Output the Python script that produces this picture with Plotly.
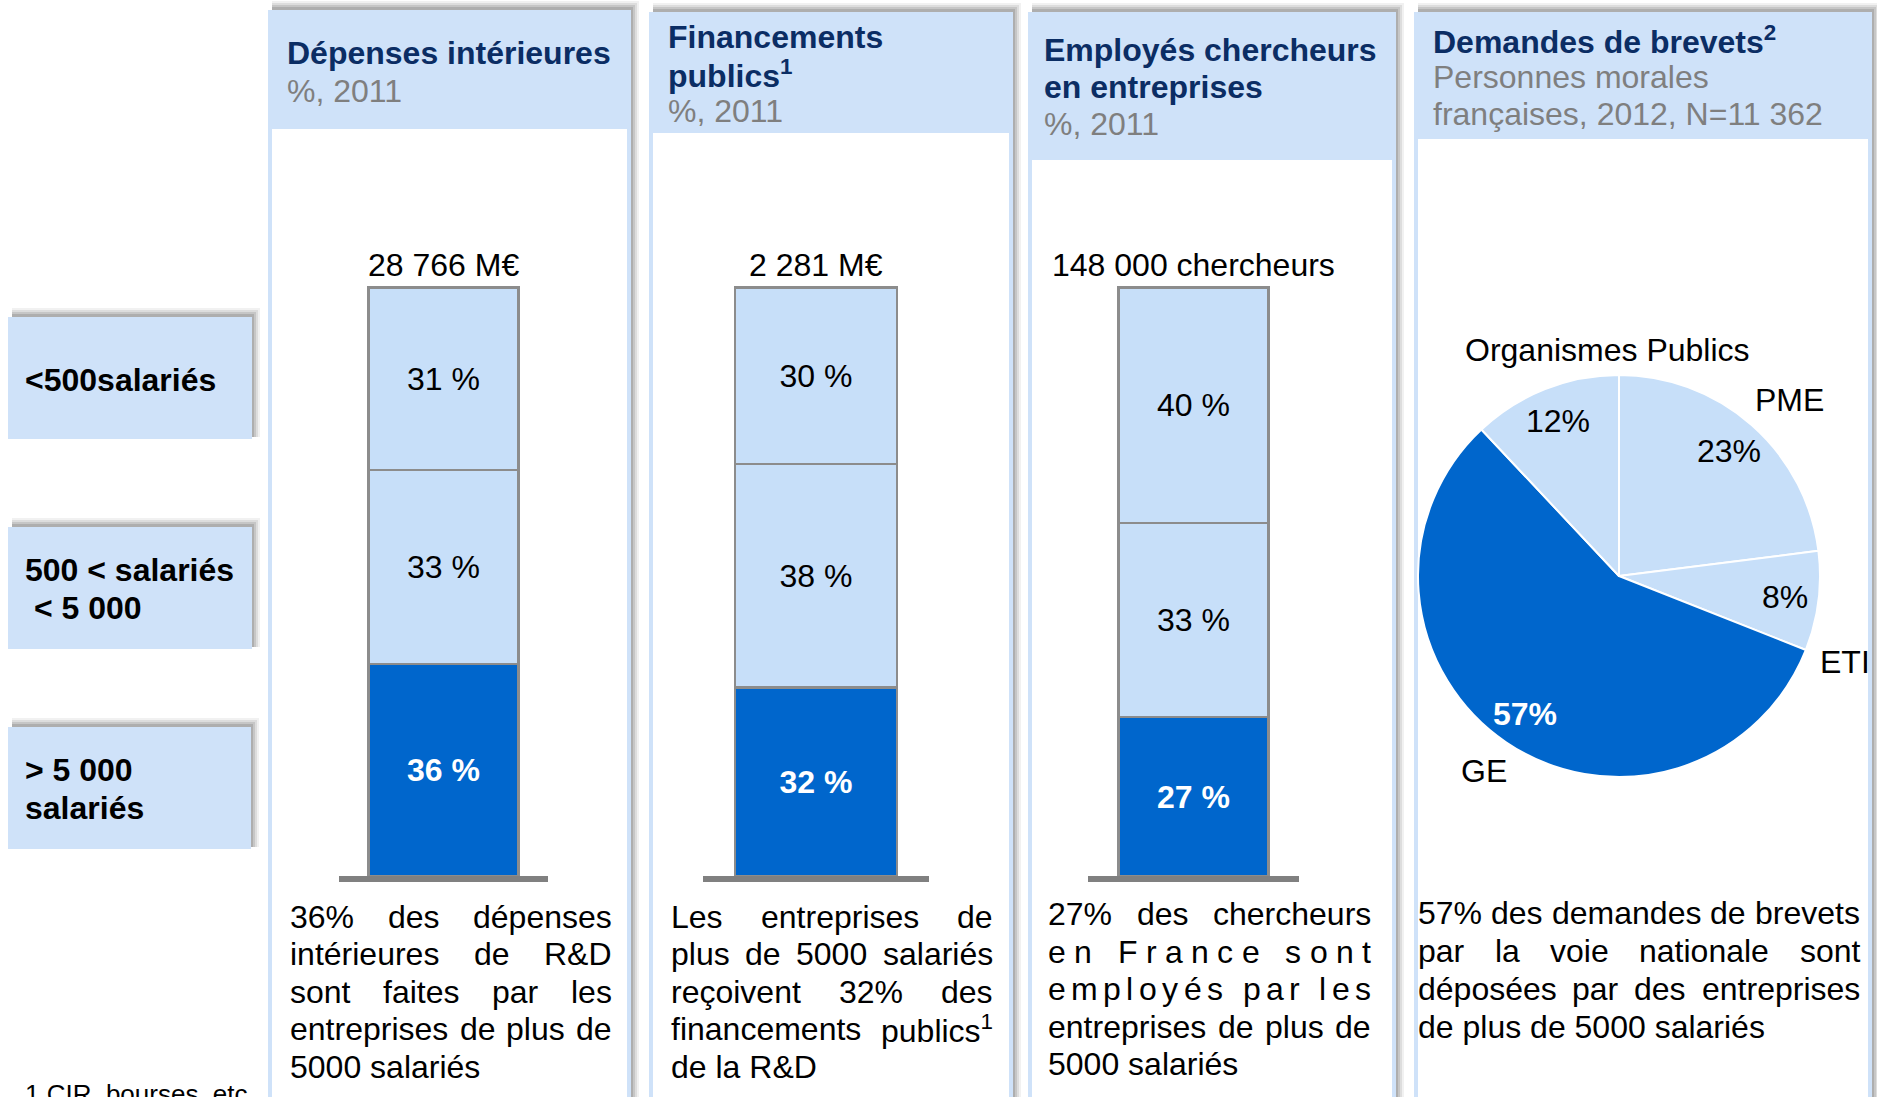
import math
import re
import plotly.graph_objects as go

W, H = 1877, 1097

# ------------------------------------------------------------------ data
segments = ["> 5 000 salariés", "500 < salariés < 5 000", "<500 salariés"]  # bottom -> top
depenses_pct = [36, 33, 31]
financements_pct = [32, 38, 30]
chercheurs_pct = [27, 33, 40]
bar_series = [depenses_pct, financements_pct, chercheurs_pct]
bar_totals = ["28 766 M€", "2 281 M€", "148 000 chercheurs"]

pie_labels = ["PME", "ETI", "GE", "Organismes Publics"]
pie_values = [23, 8, 57, 12]

row_labels = [["<500salariés"], ["500 < salariés", "< 5 000"], ["> 5 000", "salariés"]]

panel_titles = [["Dépenses intérieures"],
                ["Financements", "publics<sup>1</sup>"],
                ["Employés chercheurs", "en entreprises"],
                ["Demandes de brevets<sup>2</sup>"]]
panel_subtitles = [["%, 2011"], ["%, 2011"], ["%, 2011"],
                   ["Personnes morales", "françaises, 2012, N=11 362"]]
panel_notes = [
    ["36% des dépenses", "intérieures de R&D", "sont faites par les",
     "entreprises de plus de", "5000 salariés"],
    ["Les entreprises de", "plus de 5000 salariés", "reçoivent 32% des",
     "financements publics<sup>1</sup>", "de la R&D"],
    ["27% des chercheurs", "en France sont", "employés par les",
     "entreprises de plus de", "5000 salariés"],
    ["57% des demandes de brevets", "par la voie nationale sont",
     "déposées par des entreprises", "de plus de 5000 salariés"],
]
# lines spread letter by letter instead of word by word
letter_spread = {(2, 1), (2, 2)}
footnote = "1 CIR, bourses, etc."

# ------------------------------------------------------------------ style
FONT = "Liberation Sans, Arial, sans-serif"
FS = 32
NAVY = "#0B2D64"
GREY_TXT = "#7F7F7F"
HEAD = "#CFE2F9"
LIGHT = "#C7DFF9"
DARK = "#0066CC"
OUTLINE = "#8C8C8C"


def px(x):
    return x / W


def py(y):
    return 1 - y / H


CW = {' ': 278, '%': 889, '&': 667, ',': 278, '.': 278, '<': 584, '>': 584, '=': 584,
      'A': 667, 'B': 667, 'C': 722, 'D': 722, 'E': 667, 'F': 611, 'G': 778, 'H': 722,
      'I': 278, 'L': 556, 'M': 833, 'N': 722, 'O': 778, 'P': 667, 'R': 722, 'S': 667,
      'T': 611, 'a': 556, 'b': 556, 'c': 500, 'd': 556, 'e': 556, 'f': 278, 'g': 556,
      'h': 556, 'i': 222, 'j': 222, 'k': 500, 'l': 222, 'm': 833, 'n': 556, 'o': 556,
      'p': 556, 'q': 556, 'r': 333, 's': 500, 't': 278, 'u': 556, 'v': 500, 'w': 722,
      'x': 500, 'y': 500, 'z': 500, 'é': 556, 'ç': 500, '€': 556}


def text_w(s, size=FS):
    w = 0.0
    for part in re.split(r'(<sup>.*?</sup>)', s):
        if part.startswith('<sup>'):
            w += 0.7 * sum(CW.get(c, 556) for c in part[5:-6])
        else:
            w += sum(CW.get(c, 556) for c in part)
    return w * size / 1000.0


shapes = []
annotations = []


def rect(x0, y0, x1, y1, color):
    shapes.append(dict(type="rect", xref="paper", yref="paper", layer="below",
                       x0=px(x0), x1=px(x1), y0=py(y1), y1=py(y0),
                       fillcolor=color, line=dict(width=0)))


def shadow(x0, y0, x1, y1):
    for d, a in [(9, 0.08), (7, 0.12), (5, 0.16), (3, 0.2)]:
        rect(x0 + 4, y0 - d, x1 + d - 1, y1 - 2, "rgba(80,80,80,%.2f)" % a)


def txt(x, y, s, color="black", bold=False, size=FS, xanchor="left"):
    annotations.append(dict(xref="paper", yref="paper", x=px(x), y=py(y), text=s,
                            showarrow=False, xanchor=xanchor, yanchor="middle",
                            borderpad=0,
                            font=dict(family=FONT, size=size, color=color,
                                      weight="bold" if bold else "normal")))


# ------------------------------------------------------------------ left row labels
boxes = [(8, 317, 252, 439), (8, 527, 252, 649), (8, 727, 251, 849)]
box_text_y = [[380], [570, 608], [770, 808]]
box_text_x = [[24], [24, 33], [24, 24]]
for (x0, y0, x1, y1), lines, ys, xs in zip(boxes, row_labels, box_text_y, box_text_x):
    shadow(x0, y0, x1, y1)
    rect(x0, y0, x1, y1, HEAD)
    for s, yy, xx in zip(lines, ys, xs):
        txt(xx, yy, s, bold=True)

# ------------------------------------------------------------------ panels
panels = [(268, 631, 10, 129), (649, 1013, 12, 133), (1028, 1396, 12, 160), (1414, 1872, 12, 139)]
for (x0, x1, y0, hb) in panels:
    shadow(x0, y0, x1, 1120)
    rect(x0, y0, x1, 1120, HEAD)
    rect(x0 + 4, hb, x1 - 4, 1120, "white")

title_x = [286, 667, 1043, 1432]
title_y = [[53], [37, 74], [50, 87], [40]]
sub_y = [[91], [111], [124], [77, 114]]
for i in range(4):
    for s, yy in zip(panel_titles[i], title_y[i]):
        txt(title_x[i], yy, s, color=NAVY, bold=True)
    for s, yy in zip(panel_subtitles[i], sub_y[i]):
        txt(title_x[i], yy, s, color=GREY_TXT)

# justified notes
note_x = [(289, 611), (670, 992), (1047, 1370), (1417, 1859)]
note_y0 = [917, 917, 914, 913]
note_dy = [37.4, 37.4, 37.6, 38.0]
for i, lines in enumerate(panel_notes):
    x0, x1 = note_x[i]
    for j, line in enumerate(lines):
        yy = note_y0[i] + note_dy[i] * j
        if j == len(lines) - 1:
            txt(x0, yy, line)
            continue
        if (i, j) in letter_spread:
            chars = list(line)
            tot = sum(text_w(c) for c in chars)
            extra = (x1 - x0 - tot) / (len(chars) - 1)
            xx = x0
            for c in chars:
                if c != ' ':
                    txt(xx, yy, c)
                xx += text_w(c) + extra
        else:
            words = line.split(' ')
            tot = sum(text_w(w) for w in words)
            gap = (x1 - x0 - tot) / (len(words) - 1)
            xx = x0
            for w in words:
                txt(xx, yy, w)
                xx += text_w(w) + gap

txt(24, 1094, footnote, size=26)

# ------------------------------------------------------------------ stacked bars
# (baseline x0, baseline x1, bar x0, bar x1)
bar_geom = [(339, 548, 369, 519), (703, 929, 735, 897), (1088, 1299, 1119, 1269)]
Y_BOTTOM, Y_TOP = 876, 287.5
YMAX = 101
y_top_dom = Y_BOTTOM - (Y_BOTTOM - Y_TOP) * YMAX / 100.0

fig = go.Figure()
layout_axes = {}
seg_colors = [DARK, LIGHT, LIGHT]
seg_text_colors = ["white", "black", "black"]
seg_weights = ["bold", "normal", "normal"]
for i, (vals, total) in enumerate(zip(bar_series, bar_totals)):
    n = "" if i == 0 else str(i + 1)
    b0, b1, r0, r1 = bar_geom[i]
    bw = (r1 - r0) / (b1 - b0)
    for k, (seg, v) in enumerate(zip(segments, vals)):
        fig.add_trace(go.Bar(
            x=[0], y=[v], width=[bw], name=seg, xaxis="x" + n, yaxis="y" + n,
            marker=dict(color=seg_colors[k], line=dict(color=OUTLINE, width=2.5)),
            text=[f"{v} %"], textposition="inside", insidetextanchor="middle",
            textangle=0, constraintext="none",
            textfont=dict(family=FONT, size=FS, color=seg_text_colors[k],
                          weight=seg_weights[k]),
            showlegend=False, hoverinfo="skip"))
    layout_axes["xaxis" + n] = dict(domain=[px(b0), px(b1)], range=[-0.5, 0.5],
                                    anchor="y" + n, showline=True, linecolor="#808080",
                                    linewidth=6, showticklabels=False, showgrid=False,
                                    zeroline=False, ticks="", fixedrange=True)
    layout_axes["yaxis" + n] = dict(domain=[py(Y_BOTTOM), py(y_top_dom)], range=[0, YMAX],
                                    anchor="x" + n, visible=False, showgrid=False,
                                    zeroline=False, fixedrange=True)
    annotations.append(dict(xref="x" + n, yref="y" + n, x=0, y=sum(vals), yshift=22,
                            text=total, showarrow=False, xanchor="center",
                            yanchor="middle", borderpad=0,
                            font=dict(family=FONT, size=FS, color="black")))

# ------------------------------------------------------------------ pie
CX, CY, R = 1619, 576, 201
pie_colors = [LIGHT if lab != "GE" else DARK for lab in pie_labels]
fig.add_trace(go.Pie(
    labels=pie_labels, values=pie_values, sort=False, direction="clockwise", rotation=0,
    marker=dict(colors=pie_colors, line=dict(color="white", width=2)),
    textinfo="none", hoverinfo="skip", showlegend=False,
    domain=dict(x=[px(CX - R), px(CX + R)], y=[py(CY + R), py(CY - R)])))

total = sum(pie_values)
cum = 0
for lab, v in zip(pie_labels, pie_values):
    mid = (cum + v / 2.0) / total * 2 * math.pi
    cum += v
    r = 0.83 * R
    x = CX + r * math.sin(mid)
    y = CY - r * math.cos(mid)
    is_dark = lab == "GE"
    txt(x, y, f"{v}%", color="white" if is_dark else "black", bold=is_dark,
        xanchor="center")

outside_pos = {"Organismes Publics": (1607, 350), "PME": (1789, 400),
               "ETI": (1845, 662), "GE": (1484, 771)}
for lab in pie_labels:
    x, y = outside_pos[lab]
    txt(x, y, lab, xanchor="center")

fig.update_layout(
    width=W, height=H, margin=dict(l=0, r=0, t=0, b=0),
    paper_bgcolor="white", plot_bgcolor="rgba(0,0,0,0)",
    barmode="stack", bargap=0, showlegend=False,
    font=dict(family=FONT, size=FS, color="black"),
    shapes=shapes, annotations=annotations,
    **layout_axes)

fig.write_html("out.html", include_plotlyjs=True, full_html=True,
               config={"displayModeBar": False, "staticPlot": True},
               post_script="document.body.style.margin='0';document.body.style.overflow='hidden';")
